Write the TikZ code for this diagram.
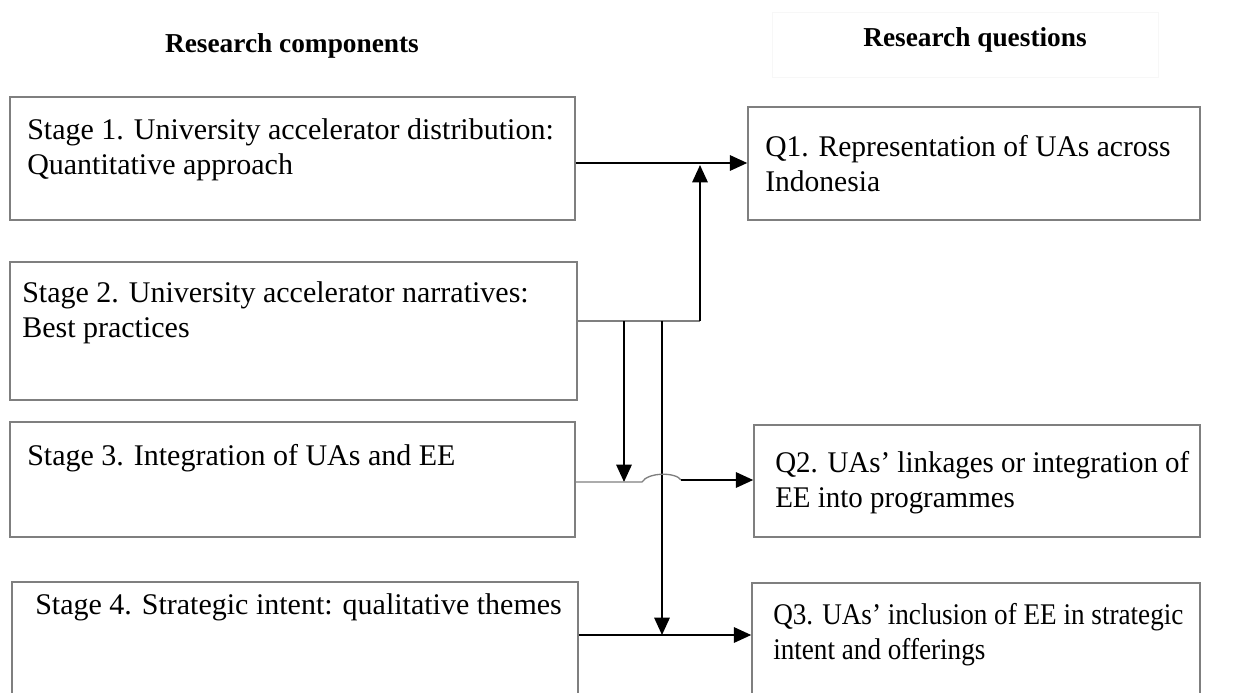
\documentclass[tikz,border=0pt]{standalone}
\usepackage{fontspec}
\setmainfont{Liberation Serif}
\usetikzlibrary{arrows.meta,fit}
\definecolor{boxgray}{HTML}{7F7F7F}
\newcommand{\twoline}[2]{\begin{tabular}[t]{@{}l@{}}#1\\#2\end{tabular}}
\begin{document}
\begin{tikzpicture}[x=0.75pt,y=-0.75pt,
  box/.style={draw=boxgray,line width=1.1pt,inner sep=0pt},
  txt/.style={anchor=base west,inner sep=0pt,font=\fontsize{22.5}{26.25}\selectfont},
  head/.style={inner sep=0pt,font=\fontsize{20.5}{24}\selectfont\bfseries},
  conn/.style={line width=1.5pt,draw=black},
  feed/.style={line width=1pt,draw=boxgray},
  arr/.style={conn,-{Triangle[length=13pt,width=11.5pt]}}]
\useasboundingbox (0,0) rectangle (1236,693);
\clip (0,0) rectangle (1236,693);
% headers
\node[head] (hc) at (292,46) {Research components};
\node[fit={(772,12)(1158,77)},draw=black!3,line width=0.6pt,inner sep=0pt] (hqbox) {};
\node[head] (hq) at (975,40) {Research questions};
% left boxes
\node[box,fit={(10,97)(575,220)}] (s1) {};
\node[box,fit={(10,262)(577,400)}] (s2) {};
\node[box,fit={(10,422)(575,537)}] (s3) {};
\node[box,fit={(12,582)(578,720)}] (s4) {};
% right boxes
\node[box,fit={(748,107)(1200,220)}] (q1) {};
\node[box,fit={(754,425)(1200,537)}] (q2) {};
\node[box,fit={(752,583)(1200,720)}] (q3) {};
% texts
\node[txt] (s1t) at (27,139) {\twoline{Stage 1. University accelerator distribution:}{Quantitative approach}};
\node[txt] (s2t) at (22,302) {\twoline{Stage 2. University accelerator narratives:}{Best practices}};
\node[txt] (s3t) at (27,465) {Stage 3. Integration of UAs and EE};
\node[txt] (s4t) at (35,614) {Stage 4. Strategic intent: qualitative themes};
\node[txt] (q1t) at (765,156) {\scalebox{0.985}[1]{\twoline{Q1. Representation of UAs across}{Indonesia}}};
\node[txt] (q2t) at (775,472) {\scalebox{0.965}[1]{\twoline{Q2. UAs’ linkages or integration of}{EE into programmes}}};
\node[txt] (q3t) at (773,624) {\scalebox{0.905}[1]{\twoline{Q3. UAs’ inclusion of EE in strategic}{intent and offerings}}};
% connector coordinates
\coordinate (r1) at (575,163);
\coordinate (j1) at (700,321);
\coordinate (d1) at (624,321);
\coordinate (d2) at (662,321);
\coordinate (h3) at (575,482);
\coordinate (hs) at (642,482);
\coordinate (he) at (681,480);
\coordinate (h4) at (578,635);
% connectors
\draw[arr] (s1.east |- r1) -- (q1.west |- r1);
\draw[feed] (s2.east |- j1) -- (j1);
\draw[arr] (j1) -- ([yshift=-1.5pt]j1 |- r1);
\draw[arr] (d1) -- (d1 |- h3);
\draw[arr] (d2) -- (d2 |- h4);
\draw[feed] (s3.east |- h3) -- (hs) .. controls (648,472) and (676,472) .. (he);
\draw[arr] (he) -- (q2.west |- he);
\draw[arr] (s4.east |- h4) -- (q3.west |- h4);
\end{tikzpicture}
\end{document}
